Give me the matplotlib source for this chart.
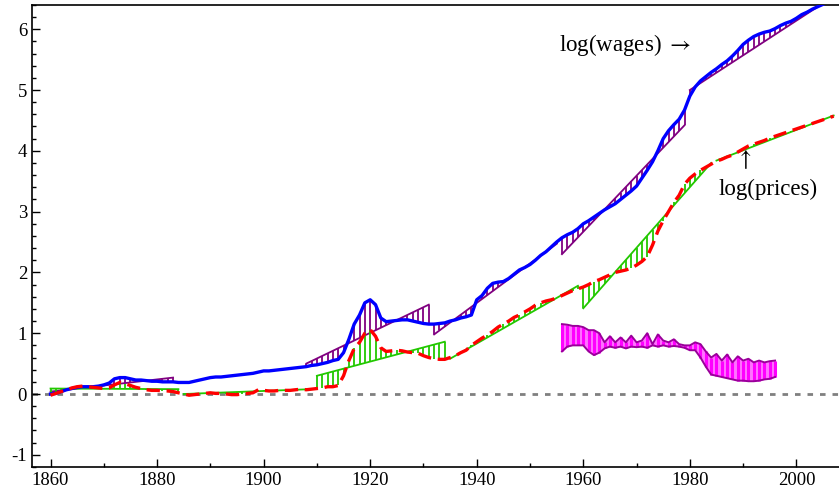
import numpy as np
import matplotlib
matplotlib.use("Agg")
import matplotlib.pyplot as plt
from matplotlib.ticker import MultipleLocator

plt.rcParams['font.family'] = ['Liberation Serif', 'DejaVu Serif']
plt.rcParams['mathtext.fontset'] = 'stix'
plt.rcParams['axes.unicode_minus'] = False

years = np.arange(1860, 2008)

wages = [0.00, 0.01, 0.04, 0.07, 0.09, 0.11, 0.12, 0.12, 0.12, 0.13,
         0.15, 0.18, 0.25, 0.27, 0.27, 0.25, 0.23, 0.23, 0.22, 0.21,
         0.21, 0.20, 0.20, 0.20, 0.19, 0.19, 0.19, 0.21, 0.23, 0.25,
         0.27, 0.28, 0.28, 0.29, 0.30, 0.31, 0.32, 0.33, 0.34, 0.36,
         0.38, 0.38, 0.39, 0.40, 0.41, 0.42, 0.43, 0.44, 0.45, 0.47,
         0.48, 0.50, 0.52, 0.55, 0.57, 0.68, 0.90, 1.15, 1.30, 1.50,
         1.55, 1.47, 1.25, 1.19, 1.20, 1.21, 1.22, 1.22, 1.20, 1.18,
         1.16, 1.15, 1.15, 1.16, 1.17, 1.20, 1.22, 1.25, 1.27, 1.30,
         1.55, 1.62, 1.74, 1.82, 1.84, 1.85, 1.90, 1.97, 2.04, 2.08,
         2.13, 2.20, 2.28, 2.34, 2.42, 2.50, 2.57, 2.62, 2.66, 2.72,
         2.80, 2.85, 2.91, 2.97, 3.03, 3.08, 3.13, 3.20, 3.27, 3.34,
         3.42, 3.55, 3.68, 3.82, 4.00, 4.20, 4.33, 4.43, 4.52, 4.67,
         4.90, 5.05, 5.15, 5.22, 5.29, 5.35, 5.42, 5.48, 5.56, 5.65,
         5.75, 5.82, 5.88, 5.92, 5.95, 5.97, 6.01, 6.06, 6.10, 6.13,
         6.18, 6.24, 6.28, 6.33, 6.37, 6.41, 6.45, 6.49]

prices = [-0.02, 0.01, 0.04, 0.07, 0.10, 0.12, 0.13, 0.12, 0.11, 0.10,
          0.09, 0.10, 0.15, 0.19, 0.17, 0.14, 0.11, 0.09, 0.07, 0.06,
          0.06, 0.05, 0.05, 0.04, 0.02, 0.00, -0.02, -0.01, 0.00, 0.01,
          0.02, 0.01, 0.01, 0.00, -0.01, -0.01, 0.00, 0.01, 0.02, 0.07,
          0.06, 0.05, 0.05, 0.06, 0.06, 0.06, 0.07, 0.08, 0.07, 0.08,
          0.09, 0.10, 0.12, 0.12, 0.14, 0.30, 0.55, 0.75, 0.85, 1.00,
          1.06, 0.95, 0.76, 0.70, 0.71, 0.72, 0.71, 0.69, 0.68, 0.67,
          0.63, 0.60, 0.58, 0.57, 0.57, 0.60, 0.63, 0.68, 0.72, 0.80,
          0.86, 0.92, 0.97, 1.03, 1.10, 1.15, 1.20, 1.26, 1.30, 1.35,
          1.40, 1.46, 1.50, 1.53, 1.55, 1.58, 1.62, 1.66, 1.70, 1.73,
          1.76, 1.80, 1.85, 1.88, 1.92, 1.96, 2.00, 2.02, 2.04, 2.07,
          2.12, 2.18, 2.26, 2.45, 2.68, 2.85, 3.00, 3.15, 3.27, 3.45,
          3.55, 3.62, 3.68, 3.73, 3.78, 3.83, 3.86, 3.90, 3.93, 3.98,
          4.03, 4.08, 4.11, 4.14, 4.17, 4.21, 4.24, 4.27, 4.30, 4.33,
          4.36, 4.39, 4.42, 4.45, 4.48, 4.51, 4.54, 4.57]

# trend segments: (start year, end year, start value, end value)
wage_trends = [(1860, 1883, 0.04, 0.27),
               (1908, 1931, 0.50, 1.47),
               (1932, 1955, 0.98, 2.47),
               (1956, 1979, 2.30, 4.42),
               (1980, 2007, 5.00, 6.54)]
price_trends = [(1860, 1884, 0.09, 0.08),
                (1885, 1909, 0.00, 0.08),
                (1910, 1934, 0.30, 0.86),
                (1935, 1959, 0.58, 1.78),
                (1960, 1984, 1.41, 3.80),
                (1985, 2007, 3.84, 4.58)]

# magenta block: upper and lower outline
mag_years = np.arange(1956, 1997)
mag_top = [1.15, 1.14, 1.12, 1.12, 1.10, 1.05, 1.05, 1.00, 0.85, 0.95,
           0.85, 0.93, 0.85, 0.96, 0.85, 0.88, 1.00, 0.82, 0.98, 0.88,
           0.85, 0.90, 0.82, 0.80, 0.80, 0.85, 0.82, 0.70, 0.60, 0.66,
           0.55, 0.65, 0.52, 0.62, 0.55, 0.58, 0.52, 0.55, 0.52, 0.54, 0.55]
mag_bot = [0.70, 0.78, 0.80, 0.80, 0.80, 0.70, 0.64, 0.68, 0.75, 0.78,
           0.76, 0.78, 0.75, 0.78, 0.77, 0.78, 0.76, 0.80, 0.78, 0.80,
           0.78, 0.79, 0.78, 0.76, 0.72, 0.72, 0.60, 0.45, 0.32, 0.30,
           0.28, 0.26, 0.24, 0.22, 0.22, 0.21, 0.21, 0.22, 0.24, 0.25, 0.28]

wages = np.array(wages)
prices = np.array(prices)

fig = plt.figure(figsize=(8.39, 4.90), dpi=100)
ax = fig.add_axes([0.038, 0.047, 0.962, 0.943])


def hatch(ax, segs, series, color):
    for y0, y1, v0, v1 in segs:
        ax.plot([y0, y1], [v0, v1], color=color, lw=1.3, zorder=2)
        yr = np.arange(y0, y1 + 1)
        tr = np.interp(yr, [y0, y1], [v0, v1])
        s = series[yr - 1860]
        ax.vlines(yr, tr, s, color=color, lw=1.3, zorder=2)


ax.axhline(0, color='#808080', ls=(0, (2, 2.5)), lw=2, zorder=1)

hatch(ax, wage_trends, wages, '#800080')
hatch(ax, price_trends, prices, '#22c800')

ax.fill_between(mag_years, mag_bot, mag_top, color='#ff00ff', alpha=0.55, lw=0, zorder=2)
ax.vlines(mag_years, mag_bot, mag_top, color='#ff00ff', lw=2.2, zorder=2)
ax.plot(mag_years, mag_top, color='#990099', lw=1.4, zorder=3)
ax.plot(mag_years, mag_bot, color='#990099', lw=1.4, zorder=3)

ax.plot(years, wages, color='#0000ff', lw=2.4, zorder=4)
ax.plot(years, prices, color='#ff0000', lw=2.4, ls=(0, (4, 2)), zorder=4)

ax.text(1955.5, 5.74, 'log(wages) $\\rightarrow$', fontsize=16.5, va='center', ha='left')
ax.text(1990.2, 3.86, '$\\uparrow$', fontsize=16.5, va='center', ha='center')
ax.text(1994.7, 3.37, 'log(prices)', fontsize=16.5, va='center', ha='center')

ax.set_xlim(1856.5, 2008)
ax.set_ylim(-1.2, 6.4)
ax.xaxis.set_major_locator(MultipleLocator(20))
ax.xaxis.set_minor_locator(MultipleLocator(10))
ax.yaxis.set_major_locator(MultipleLocator(1))
ax.yaxis.set_minor_locator(MultipleLocator(0.2))
ax.tick_params(which='both', direction='in', labelsize=13.5, top=False, right=False)
ax.tick_params(which='major', length=6, width=1)
ax.tick_params(which='minor', length=3, width=1)
ax.spines['right'].set_visible(False)
for sp in ['left', 'bottom', 'top']:
    ax.spines[sp].set_linewidth(1.2)

fig.savefig('out.png', dpi=100)
